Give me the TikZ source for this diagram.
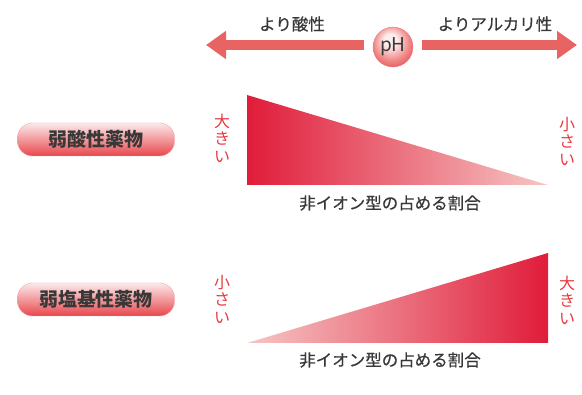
\documentclass[tikz,border=0pt]{standalone}
\usepackage{fontspec}
\setmainfont{Noto Sans CJK JP}
\newfontfamily\medfont[FakeBold=0.5]{Noto Sans CJK JP}
\usetikzlibrary{arrows.meta,shadings}
\definecolor{arrowred}{HTML}{E86462}
\definecolor{darkred}{HTML}{E01C3A}
\definecolor{lightred}{HTML}{F6C6C4}
\definecolor{txtred}{HTML}{E8383D}
\definecolor{txtgrey}{HTML}{383838}
\definecolor{pilltop}{HTML}{FCEAEA}
\definecolor{pillbot}{HTML}{E8464C}
\definecolor{ballin}{HTML}{FDEDED}
\definecolor{ballmid}{HTML}{F08A88}
\definecolor{ballout}{HTML}{E4505A}
\pgfdeclareradialshading{phball}{\pgfpoint{-4bp}{10bp}}{%
  color(0bp)=(ballin); color(8bp)=(ballin); color(22bp)=(ballmid); color(32bp)=(ballout); color(50bp)=(ballout)}
\tikzset{
  lbl/.style={font=\medfont\fontsize{16.5}{18}\selectfont, text=txtgrey, inner sep=0pt},
  vlbl/.style={font=\fontsize{16}{17.5}\selectfont, text=txtred, align=center, inner sep=0pt},
  pill/.style={rounded corners=15pt, minimum width=157pt, minimum height=33pt, inner sep=0pt,
    top color=pilltop, bottom color=pillbot, draw=pillbot!50, line width=0.4pt,
    font=\bfseries\fontsize{19}{21}\selectfont, text=txtgrey},
  pharrow/.style={draw=arrowred, line width=10pt, -{Triangle[width=27pt,length=20pt]}, shorten <=9pt},
}
\begin{document}
\begin{tikzpicture}[x=1pt,y=-1pt]
\useasboundingbox (0,0) rectangle (582,395);
% pH
\node[circle, minimum size=40pt, inner sep=0pt, shading=phball, draw=ballout!80, line width=0.3pt,
  font=\fontsize{19}{21}\selectfont, text=txtgrey] (ph) at (393,47) {pH};
\coordinate (la) at (206,45);
\coordinate (ra) at (577,45);
\draw[pharrow] (ph.west |- la) ++(0,0) coordinate (phl) -- (la);
\draw[pharrow] (ph.east |- ra) coordinate (phr) -- (ra);
\node[lbl] (acid) at (292,24) {より酸性};
\node[lbl] (alk) at (495,24) {よりアルカリ性};
% top triangle
\shade[left color=darkred, right color=lightred] (247,95) -- (247,185) -- (548,185) -- cycle;
\node[vlbl] (big1) at (222,138) {大\\き\\い};
\node[vlbl] (small1) at (567,141) {小\\さ\\い};
\node[lbl] (ratio1) at (390,203) {非イオン型の占める割合};
\node[pill] (p1) at (96,139.5) {弱酸性薬物};
% bottom triangle
\shade[left color=lightred, right color=darkred] (247,343) -- (548,253) -- (548,343) -- cycle;
\node[vlbl] (small2) at (222,299) {小\\さ\\い};
\node[vlbl] (big2) at (567,300) {大\\き\\い};
\node[lbl] (ratio2) at (390,360) {非イオン型の占める割合};
\node[pill] (p2) at (96,299.5) {弱塩基性薬物};
\end{tikzpicture}
\end{document}
